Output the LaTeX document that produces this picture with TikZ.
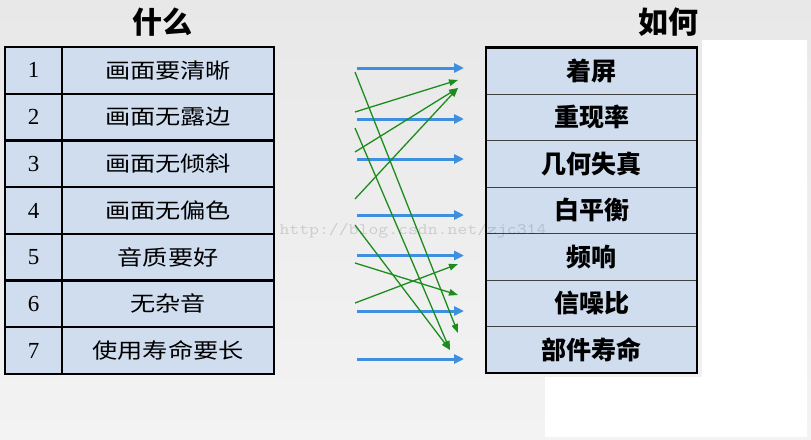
\documentclass[tikz,border=0pt]{standalone}
\usepackage{fontspec}
\usetikzlibrary{arrows.meta}
\newfontfamily\cjk{Noto Sans CJK SC}
\newfontfamily\cjkl{Noto Sans CJK SC}[FakeStretch=1.2]
\newfontfamily\numfont{Liberation Serif}
\definecolor{cellblue}{RGB}{207,221,239}
\definecolor{arrowblue}{RGB}{62,143,224}
\definecolor{arrowgreen}{RGB}{28,140,28}
\definecolor{bgtop}{RGB}{232,232,232}
\definecolor{bgbot}{RGB}{243,243,243}
\begin{document}
\begin{tikzpicture}[x=1pt,y=-1pt,
  lcell/.style={draw=black, line width=2.4pt, fill=cellblue, minimum height=46.7pt, inner sep=0pt},
  numcell/.style={lcell, minimum width=57pt, font=\numfont\fontsize{23}{23}\selectfont},
  txtcell/.style={lcell, minimum width=212pt, font=\cjkl\fontsize{21}{21}\selectfont},
  rcell/.style={draw=black!75, line width=0.8pt, fill=cellblue, minimum width=211pt, minimum height=46.47pt, inner sep=0pt, font=\cjk\bfseries\fontsize{25}{25}\selectfont},
  titletext/.style={font=\cjk\bfseries\fontsize{30}{30}\selectfont, inner sep=0pt},
  bluearrow/.style={draw=arrowblue, line width=3pt, -{Triangle[length=10pt,width=9pt]}},
  greenarrow/.style={draw=arrowgreen, line width=1.3pt, -{Triangle[length=9pt,width=6.5pt]}},
  watermark/.style={font=\ttfamily\fontsize{16}{16}\selectfont, text=black, opacity=0.14, inner sep=0pt}
]
% background
\useasboundingbox (0,0) rectangle (811,439);
\fill[top color=bgtop, bottom color=bgbot] (0,0) rectangle (811,439);
\fill[white] (702,40) -- (807,40) -- (807,437) -- (545,437) -- (545,377) -- (702,377) -- cycle;

% titles
\node[titletext] (t1) at (162,22) {什么};
\node[titletext] (t2) at (668,22) {如何};

% left table
\foreach \i/\t in {1/画面要清晰,2/画面无露边,3/画面无倾斜,4/画面无偏色,5/音质要好,6/无杂音,7/使用寿命要长}{
  \node[numcell] (n\i) at (33.5,{47+46.71*(\i-0.5)}) {\i};
  \node[txtcell] (l\i) at (168,{47+46.71*(\i-0.5)}) {\t};
}

% right table
\foreach \i/\t in {1/着屏,2/重现率,3/几何失真,4/白平衡,5/频响,6/信噪比,7/部件寿命}{
  \node[rcell] (r\i) at (591.5,{47.7+46.47*(\i-0.5)}) {\t};
}
\draw[line width=2pt] (r1.north west) rectangle (r7.south east);
\draw[line width=3pt] (r1.north west) -- (r1.north east);

% blue arrows
\foreach \i/\y in {1/68,2/119,3/159,4/215,5/255.5,6/311,7/359}{
  \coordinate (bs\i) at (357,\y);
  \coordinate (be\i) at (464,\y);
  \draw[bluearrow] (bs\i) -- (be\i);
}

% green arrows
\foreach \i/\ya/\xb/\yb in {1/72/458/333,2/112/458/80,3/128/450/350,4/152/458/88,5/199/458/88,6/225/450/350,7/263/458/295,8/303/458/264}{
  \coordinate (gs\i) at (355,\ya);
  \coordinate (ge\i) at (\xb,\yb);
  \draw[greenarrow] (gs\i) -- (ge\i);
}

% watermark
\node[watermark] (wm) at (413,231) {\scalebox{1.2}[1]{http://blog.csdn.net/zjc314}};
\end{tikzpicture}
\end{document}
